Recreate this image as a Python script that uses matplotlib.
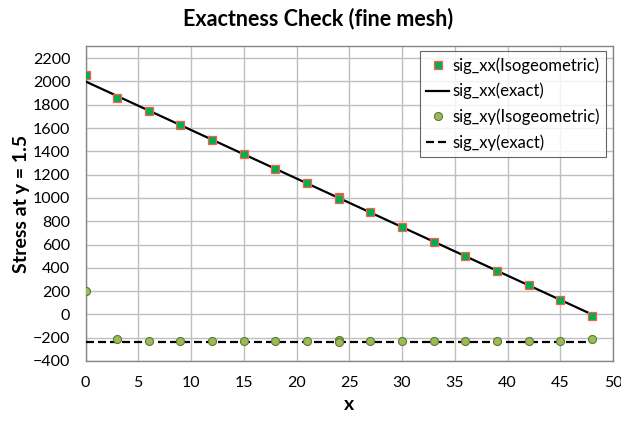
import matplotlib
matplotlib.use('Agg')
import matplotlib.pyplot as plt

plt.rcParams['font.family'] = ['Lato', 'DejaVu Sans']

# isogeometric sample points (element boundary at x = 24 appears twice)
x_iga = [0, 3, 6, 9, 12, 15, 18, 21, 24, 24, 27, 30, 33, 36, 39, 42, 45, 48]
sxx_iga = [2055, 1862, 1750, 1625, 1500, 1375, 1250, 1125, 1010, 990,
           875, 750, 625, 500, 375, 250, 125, -15]
sxy_iga = [197, -215, -232, -232, -232, -232, -232, -232, -222, -238,
           -232, -232, -232, -232, -232, -232, -232, -210]

# exact solution
x_exact = [0, 48]
sxx_exact = [2000, 0]
sxy_exact = [-234, -234]

fig = plt.figure(figsize=(6.21, 4.21), dpi=100)
ax = fig.add_axes([85.5 / 621, 1 - 361 / 421, (613 - 85.5) / 621, (361 - 46.5) / 421])

ax.plot(x_iga, sxx_iga, linestyle='none', marker='s', markersize=6,
        markerfacecolor='#00B050', markeredgecolor='#FF5B4B', markeredgewidth=0.9,
        label='sig_xx(Isogeometric)', zorder=4)
ax.plot(x_exact, sxx_exact, color='black', linewidth=1.6, label='sig_xx(exact)', zorder=3)
ax.plot(x_iga, sxy_iga, linestyle='none', marker='o', markersize=5.8,
        markerfacecolor='#9BBB59', markeredgecolor='#5E7A35', markeredgewidth=0.8,
        label='sig_xy(Isogeometric)', zorder=4)
ax.plot(x_exact, sxy_exact, color='black', linewidth=1.6, linestyle=(0, (3.6, 1.8)),
        label='sig_xy(exact)', zorder=3)

ax.set_xlim(0, 50)
ax.set_ylim(-400, 2300)
ax.set_xticks(range(0, 51, 5))
ax.set_yticks(range(-400, 2201, 200))
ax.grid(True, color='#BFBFBF', linewidth=1.0)
ax.set_axisbelow(True)
for s in ax.spines.values():
    s.set_color('#868686')
    s.set_linewidth(1.0)
ax.tick_params(length=0, labelsize=11.5)
ax.tick_params(axis='x', pad=11)
ax.tick_params(axis='y', pad=11)

fig.text(318 / 621, 1 - 19 / 421, 'Exactness Check (fine mesh)', fontsize=15.5,
         fontweight='bold', ha='center', va='center')
ax.set_xlabel('x', fontsize=14, fontweight='bold', labelpad=4)
ax.set_ylabel('Stress at y = 1.5', fontsize=14, fontweight='bold', labelpad=2)

leg = ax.legend(loc='upper right', bbox_to_anchor=(0.99, 0.99), fontsize=12,
                frameon=True, fancybox=False, edgecolor='#404040',
                handlelength=1.4, handletextpad=0.2, borderpad=0.35,
                labelspacing=0.55, borderaxespad=0.1)
leg.get_frame().set_linewidth(0.8)

fig.savefig('out.png', dpi=100)
